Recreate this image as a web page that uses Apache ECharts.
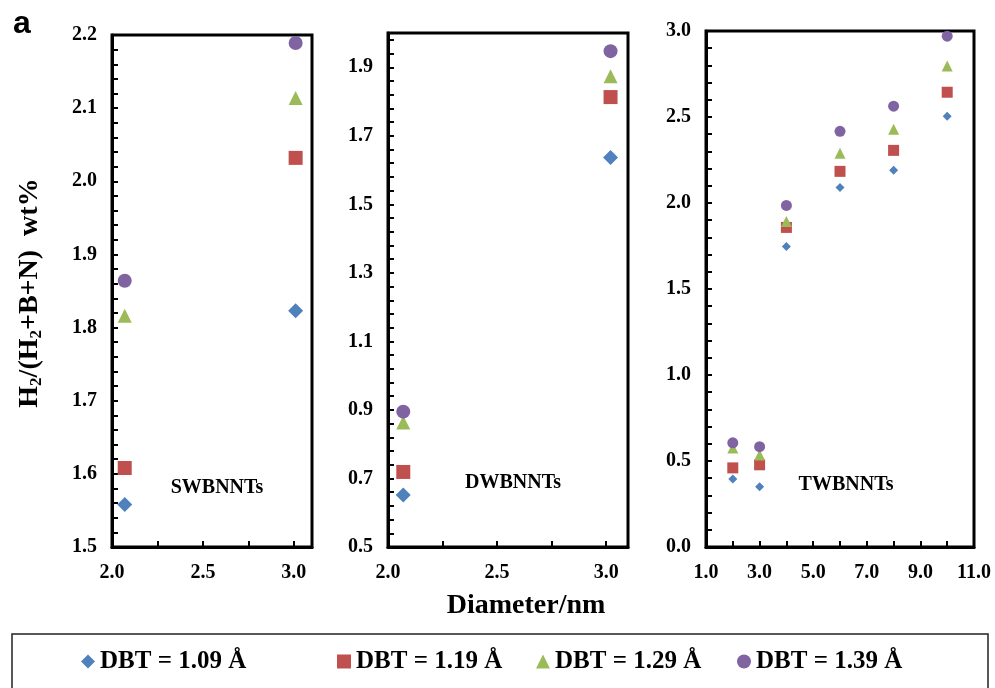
<!DOCTYPE html>
<html>
<head>
<meta charset="utf-8">
<script src="https://cdn.jsdelivr.net/npm/echarts@6/dist/echarts.min.js"></script>
<style>
html,body{margin:0;padding:0;background:#fff;}
#chart{width:995px;height:688px;}
</style>
</head>
<body>
<div id="chart"></div>
<script>
// ---- data ----
const seriesNames = ['DBT = 1.09 Å', 'DBT = 1.19 Å', 'DBT = 1.29 Å', 'DBT = 1.39 Å'];
const panelLabels = ['SWBNNTs', 'DWBNNTs', 'TWBNNTs'];

// SWBNNTs
const swX = [2.07, 3.01];
const sw109 = [1.558, 1.823];
const sw119 = [1.608, 2.032];
const sw129 = [1.816, 2.114];
const sw139 = [1.864, 2.189];

// DWBNNTs
const dwX = [2.07, 3.02];
const dw109 = [0.652, 1.637];
const dw119 = [0.719, 1.813];
const dw129 = [0.863, 1.874];
const dw139 = [0.895, 1.947];

// TWBNNTs
const twX = [2, 3, 4, 6, 8, 10];
const tw109 = [0.396, 0.350, 1.747, 2.090, 2.190, 2.504];
const tw119 = [0.460, 0.478, 1.858, 2.184, 2.306, 2.644];
const tw129 = [0.575, 0.535, 1.893, 2.289, 2.429, 2.796];
const tw139 = [0.606, 0.583, 1.986, 2.417, 2.563, 2.970];

const xTitle = 'Diameter/nm';

// ---- styling ----
const SERIF = "'Liberation Serif','Times New Roman',serif";
const colors = ['#4F81BD', '#C0504D', '#9BBB59', '#8064A2'];
const symbols = ['diamond', 'rect', 'triangle', 'circle'];
const bigSizes = [15, 14, 14, 14];
const smallSizes = [9, 11, 11, 11];

const panels = [
  {x: swX, ys: [sw109, sw119, sw129, sw139], sizes: bigSizes},
  {x: dwX, ys: [dw109, dw119, dw129, dw139], sizes: bigSizes},
  {x: twX, ys: [tw109, tw119, tw129, tw139], sizes: smallSizes}
];

const grids = [
  {left: 112, top: 35, width: 200, height: 512},
  {left: 388, top: 33, width: 240, height: 514},
  {left: 706, top: 31, width: 268, height: 516}
];

function mkAxis(type, gi, min, max, tickStep, labelStep) {
  return {
    type: 'value', gridIndex: gi, min: min, max: max, interval: tickStep,
    axisLine: {show: true, onZero: false, lineStyle: {color: '#000', width: 3}},
    axisTick: {show: true, inside: true, length: 6, lineStyle: {color: '#000', width: 2}},
    splitLine: {show: false},
    axisLabel: {
      show: true, color: '#000', fontFamily: SERIF, fontWeight: 'bold', fontSize: 20,
      margin: type === 'x' ? 16 : 15,
      showMinLabel: true, showMaxLabel: true,
      formatter: function (v) {
        const r = (v - min) / labelStep;
        return Math.abs(r - Math.round(r)) < 1e-6 ? v.toFixed(1) : '';
      }
    }
  };
}

const xAxes = [
  mkAxis('x', 0, 2.0, 3.1, 0.25, 0.5),
  mkAxis('x', 1, 2.0, 3.1, 0.25, 0.5),
  mkAxis('x', 2, 1, 11, 1, 2)
];
const yAxes = [
  mkAxis('y', 0, 1.5, 2.2, 0.02, 0.1),
  mkAxis('y', 1, 0.5, 2.0, 0.04, 0.2),
  mkAxis('y', 2, 0, 3.0, 0.1, 0.5)
];

const series = [];
panels.forEach(function (p, pi) {
  p.ys.forEach(function (ys, si) {
    series.push({
      type: 'scatter', name: seriesNames[si], xAxisIndex: pi, yAxisIndex: pi,
      symbol: symbols[si], symbolSize: p.sizes[si],
      itemStyle: {color: colors[si], opacity: 1},
      emphasis: {disabled: true},
      data: p.x.map(function (xv, k) { return [xv, ys[k]]; })
    });
  });
});

const legendLefts = [81, 337, 536, 737];
const legends = seriesNames.map(function (n, i) {
  return {
    data: [n], left: legendLefts[i], top: 649, itemWidth: 14, itemHeight: 14, itemGap: 0,
    selectedMode: false, padding: 0,
    textStyle: {fontFamily: SERIF, fontWeight: 'bold', fontSize: 25, color: '#000'}
  };
});

const panelLabelPos = [[217, 488], [513, 483], [846, 485]];

const graphics = [
  {type: 'text', x: 22, y: 24, style: {text: 'a', font: "bold 32px 'Liberation Sans', Arial, sans-serif", fill: '#000', align: 'center', verticalAlign: 'middle'}},
  {type: 'text', x: 30, y: 293, rotation: Math.PI / 2,
   style: {
     text: '{m|H}{s|2}{m|/(H}{s|2}{m|+B+N)  wt%}',
     align: 'center', verticalAlign: 'middle', fill: '#000',
     rich: {
       m: {fontFamily: SERIF, fontWeight: 'bold', fontSize: 28, lineHeight: 30, fill: '#000'},
       s: {fontFamily: SERIF, fontWeight: 'bold', fontSize: 17, lineHeight: 14, verticalAlign: 'bottom', fill: '#000'}
     }
   }},
  {type: 'text', x: 526, y: 606, style: {text: xTitle, font: 'bold 28px ' + SERIF, fill: '#000', align: 'center', verticalAlign: 'middle'}},
  {type: 'rect', shape: {x: 12, y: 634, width: 976, height: 80}, style: {fill: 'none', stroke: '#222', lineWidth: 1.5}, z: -1}
];
panelLabels.forEach(function (t, i) {
  graphics.push({type: 'text', x: panelLabelPos[i][0], y: panelLabelPos[i][1],
    style: {text: t, font: 'bold 20px ' + SERIF, fill: '#000', align: 'center', verticalAlign: 'middle'}});
});

const chart = echarts.init(document.getElementById('chart'), null, {renderer: 'canvas'});
chart.setOption({
  animation: false,
  backgroundColor: '#fff',
  grid: grids.map(function (g) { return Object.assign({show: true, borderColor: '#000', borderWidth: 3, backgroundColor: 'transparent'}, g); }),
  xAxis: xAxes,
  yAxis: yAxes,
  legend: legends,
  series: series,
  graphic: graphics
});
</script>
</body>
</html>
